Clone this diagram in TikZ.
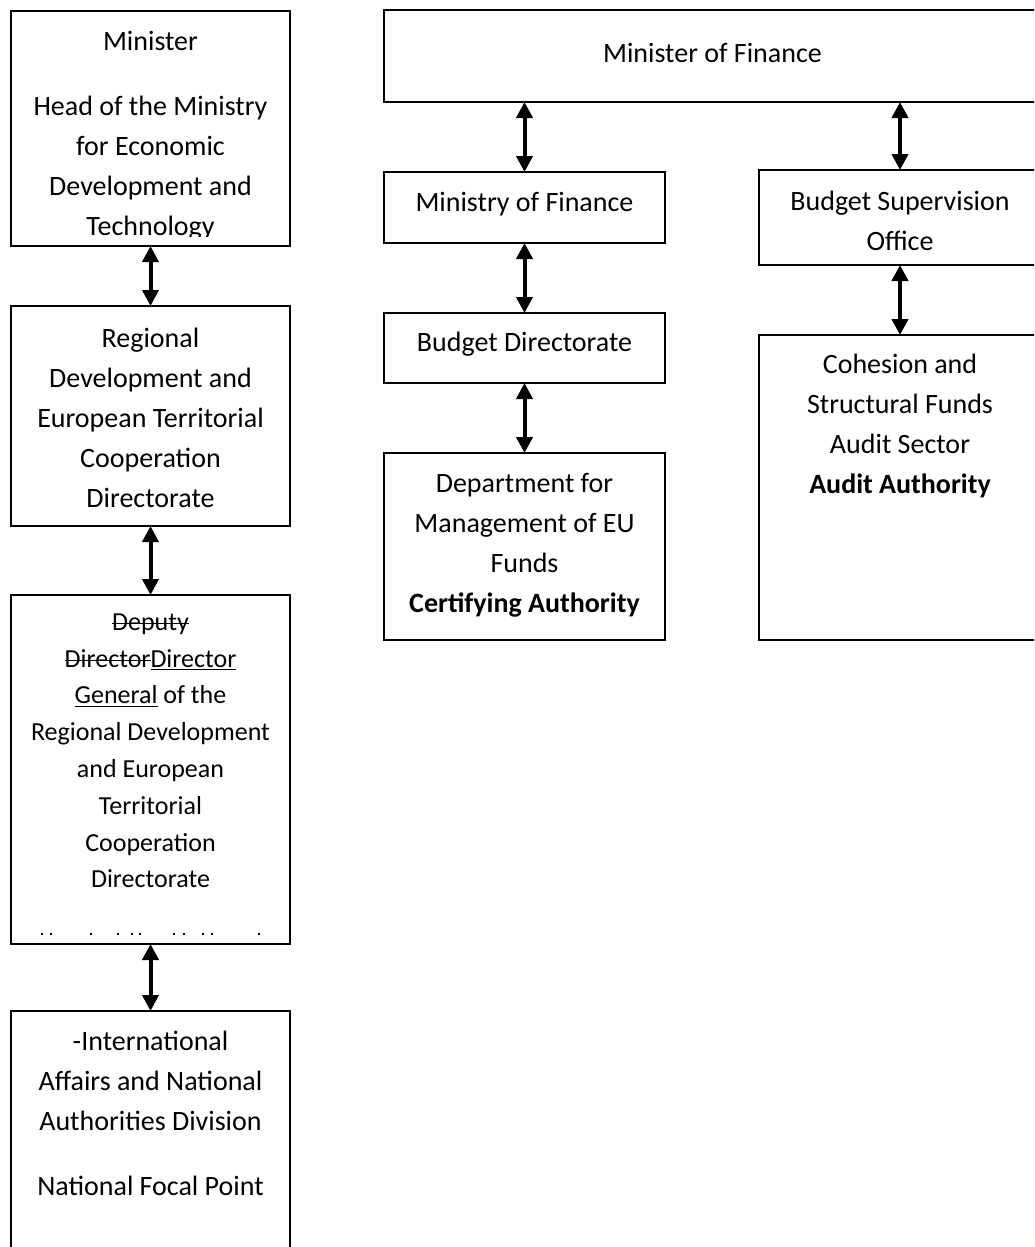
\documentclass[tikz,border=0pt]{standalone}
\usepackage{fontspec}
\setmainfont{Carlito}
\usetikzlibrary{arrows.meta}
\newcommand{\strk}[1]{\setbox0\hbox{#1}\rlap{\rule[0.23em]{\wd0}{1.3pt}}\box0\relax}
\newcommand{\undl}[1]{\setbox0\hbox{#1}\rlap{\rule[-0.13em]{\wd0}{1.3pt}}\box0\relax}
\newcommand{\bstrut}{\rule{0pt}{24pt}}
\newcommand{\sstrut}{\rule{0pt}{22pt}}
\begin{document}
\begin{tikzpicture}[x=1pt,y=-1pt,
  box/.style={draw, line width=1.8pt, rectangle, inner sep=0pt, outer sep=0pt, anchor=north west},
  txt/.style={align=center, inner sep=0pt, anchor=north, font=\fontsize{28}{40}\selectfont},
  smalltxt/.style={txt, font=\fontsize{26}{36.8}\selectfont},
  biarrow/.style={line width=4pt, {Triangle[width=16pt,length=16pt]}-{Triangle[width=16pt,length=16pt]}}]
\clip (0,0) rectangle (1034,1247);
\fill[white] (0,0) rectangle (1034,1247);
% left column boxes
\node[box, minimum width=279pt, minimum height=235pt] (b1) at (11,11) {};
\node[box, minimum width=279pt, minimum height=220pt] (b2) at (11,306) {};
\node[box, minimum width=279pt, minimum height=349pt] (b3) at (11,595) {};
\node[box, minimum width=279pt, minimum height=249pt] (b4) at (11,1011) {};
% right boxes
\node[box, minimum width=657pt, minimum height=92pt] (mof) at (384,10) {};
\node[box, minimum width=281pt, minimum height=71pt] (minf) at (384,172) {};
\node[box, minimum width=281pt, minimum height=70pt] (bd) at (384,313) {};
\node[box, minimum width=281pt, minimum height=187pt] (dept) at (384,453) {};
\node[box, minimum width=282pt, minimum height=95pt] (bso) at (759,170) {};
\node[box, minimum width=282pt, minimum height=305pt] (coh) at (759,335) {};
% texts
\begin{scope}
\clip (11,11) rectangle (290,236);
\node[txt] (t1) at (150.5,26) {\bstrut Minister\\[25pt]Head of the Ministry\\for Economic\\Development and\\Technology};
\end{scope}
\node[txt] (t2) at (150.5,323) {\bstrut Regional\\Development and\\European Territorial\\Cooperation\\Directorate};
\node[smalltxt] (t3) at (150.5,608) {\sstrut\strk{Deputy}\\\strk{Director}\undl{Director}\\\undl{General} of the\\Regional Development\\and European\\Territorial\\Cooperation\\Directorate};
\foreach \x in {42,51,91,118,132,140,174,184,203,212,259}
  \fill (\x-1.2,932.5) rectangle (\x+1.2,934.9);
\node[txt] (t4) at (150.5,1026) {\bstrut -International\\Affairs and National\\Authorities Division\\[25pt]National Focal Point};
\node[txt] (tmof) at (712.5,38) {\bstrut Minister of Finance};
\node[txt] (tminf) at (524.5,187) {\bstrut Ministry of Finance};
\node[txt] (tbd) at (524.5,327) {\bstrut Budget Directorate};
\node[txt] (tdept) at (524.5,468) {\bstrut Department for\\Management of EU\\Funds\\\textbf{Certifying Authority}};
\node[txt] (tbso) at (900,186) {\bstrut Budget Supervision\\Office};
\node[txt] (tcoh) at (900,349) {\bstrut Cohesion and\\Structural Funds\\Audit Sector\\\textbf{Audit Authority}};
% arrows
\draw[biarrow] (b1.south) -- (b2.north);
\draw[biarrow] (b2.south) -- (b3.north);
\draw[biarrow] (b3.south) -- (b4.north);
\draw[biarrow] (mof.south -| minf.north) -- (minf.north);
\draw[biarrow] (minf.south) -- (bd.north);
\draw[biarrow] (bd.south) -- (dept.north);
\draw[biarrow] (mof.south -| bso.north) -- (bso.north);
\draw[biarrow] (bso.south) -- (coh.north);
\end{tikzpicture}
\end{document}
